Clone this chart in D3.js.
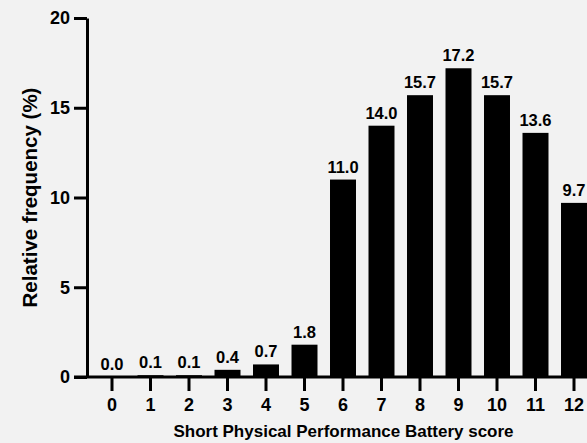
<!DOCTYPE html>
<html>
<head>
<meta charset="utf-8">
<script src="https://cdn.jsdelivr.net/npm/d3@7"></script>
<style>
  body { margin: 0; background: #f2f2f2; }
  svg { display: block; font-family: "Liberation Sans", Arial, sans-serif; font-weight: bold; }
</style>
</head>
<body>
<div id="chart"></div>
<script>
const scores = ["0", "1", "2", "3", "4", "5", "6", "7", "8", "9", "10", "11", "12"];
const freq = [0.0, 0.1, 0.1, 0.4, 0.7, 1.8, 11.0, 14.0, 15.7, 17.2, 15.7, 13.6, 9.7];
const yTicks = [0, 5, 10, 15, 20];

const width = 587, height = 443;
const marginLeft = 87, plotTop = 18, plotBottom = 377;

const svg = d3.select("#chart").append("svg")
    .attr("width", width)
    .attr("height", height);

const x = d3.scaleBand()
    .domain(scores)
    .range([92.75, 593.25])
    .paddingInner(0.325)
    .paddingOuter(0.1625);

const y = d3.scaleLinear()
    .domain([0, 20])
    .range([plotBottom, plotTop]);

// bars
svg.selectAll("rect.bar")
    .data(freq)
    .join("rect")
    .attr("class", "bar")
    .attr("x", (d, i) => x(scores[i]))
    .attr("width", x.bandwidth())
    .attr("y", d => y(d))
    .attr("height", d => y(0) - y(d))
    .attr("fill", "#000");

// value labels
svg.selectAll("text.val")
    .data(freq)
    .join("text")
    .attr("class", "val")
    .attr("x", (d, i) => x(scores[i]) + x.bandwidth() / 2)
    .attr("y", d => y(d) - 7)
    .attr("text-anchor", "middle")
    .attr("font-size", 16.5)
    .attr("fill", "#000")
    .text(d => d.toFixed(1));

// y axis
const yAxis = svg.append("g")
    .attr("transform", `translate(${marginLeft},0)`)
    .call(d3.axisLeft(y).tickValues(yTicks).tickSize(13).tickSizeOuter(0).tickPadding(4));
yAxis.select(".domain").attr("stroke-width", 3);
yAxis.selectAll(".tick line").attr("stroke-width", 3);
yAxis.selectAll(".tick text").attr("font-size", 18).attr("font-family", null).attr("fill", "#000");

// x axis
const xAxis = svg.append("g")
    .attr("transform", `translate(0,${plotBottom})`)
    .call(d3.axisBottom(x).tickSize(14).tickSizeOuter(0).tickPadding(7));
xAxis.select(".domain").remove();
xAxis.selectAll(".tick line").attr("stroke-width", 3);
xAxis.selectAll(".tick text").attr("font-size", 18).attr("font-family", null).attr("fill", "#000");

svg.append("line")
    .attr("x1", marginLeft - 13)
    .attr("x2", width)
    .attr("y1", y(0))
    .attr("y2", y(0))
    .attr("stroke", "#000")
    .attr("stroke-width", 3);

// titles
svg.append("text")
    .attr("x", 343.5)
    .attr("y", 437)
    .attr("text-anchor", "middle")
    .attr("font-size", 17)
    .text("Short Physical Performance Battery score");

svg.append("text")
    .attr("transform", "translate(37,197.5) rotate(-90)")
    .attr("text-anchor", "middle")
    .attr("font-size", 20.5)
    .text("Relative frequency (%)");
</script>
</body>
</html>
